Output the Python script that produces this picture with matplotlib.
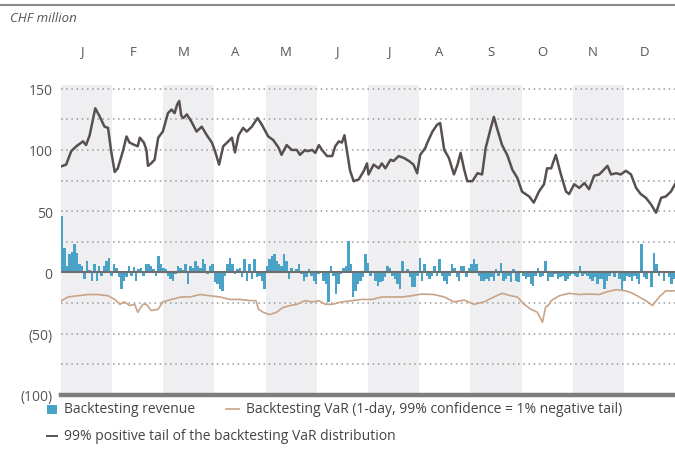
import matplotlib
matplotlib.use("Agg")
import matplotlib.pyplot as plt
from matplotlib.transforms import blended_transform_factory
from matplotlib.patches import Rectangle
from matplotlib.lines import Line2D

plt.rcParams['font.family'] = ['Open Sans', 'DejaVu Sans']

months = ["J", "F", "M", "A", "M", "J", "J", "A", "S", "O", "N", "D"]
ytick_vals = [150, 100, 50, 0, -50, -100]
ytick_labels = ["150", "100", "50", "0", "(50)", "(100)"]

# Daily backtesting revenue (CHF million), one bar per trading day
revenue = [
    46, 20, 5, 15, 17, 23, 16, 7, 5, -5, 9, 2, -7, 7, -7, 5, -3, 5, 9.5, 12,
    -3, 7, 4, -4, -13.5, -7, -4, 5, -3, 4.6, -7, 2.7, 4, -3, 7, 7, 5, 2.7, -3, 13.5,
    7, 4, 2.7, -3, -5, -7, -1, 5, 4, 2, 7,
    -9.5, 5, 4, 9.5, 5, 4, 11, 7, -1.4, 5, 7, -8, -9.5, -13.5, -15, -3, 7, 12, 7, -1.4,
    2.7, 4, -4, 11, -7, 7, -5, 11, -4, -3, -7, -13.5, 5, 11, 13.5, 15, 9.5, 7, 5, 15,
    9.5, -5, 4, 1.4, 2.7, 7, -1.4, -7, -4,
    2.7, -3, -7, -9.5, -1.4, 1.4, -7, -9.5, -24, 5, -3, -17.6, -9.5, -1.4, 4, 5, 25.7, 7, -20, -15,
    -9.5, -7, -4, 15, 8, -3, 1.4, -7, -11, -8, -7, -4, 5, 4, -3, -5, -9.5, -13.5, 9.5, 1.4,
    2.7, -4, -12, -12, -3, 12, -7, 7, -3,
    -5, -3, 5, -3, 11, -3, -7, -9.5, -3, 7, 4, -4, -7, 5, 5, -4, 4, 7, 11, 7,
    -3, -7, -7, -5, -7, -4, -7, 2.7, -3, 8, -7, -5, -3, -8, 2.7, -7, -8, 1.4, -3, -5,
    -4, -9.5, -11, -3, 4, -4, -3, 9.5, -7,
    -4, -4, -1.4, -5, -4, -3, -7, -5, -3, -1.4, -3, -4, 5, -3, -1.4, -3, -5, -7, -4, -9.5,
    -5, -5, -13.5, -7, -3, 1.4, -4, 1.4, -5, -15, -7, -3, -4, -7, -3, -5, -9.5, 23, -4, -5,
    1.4, -12, 16, 7, -3, 1.4, -7, 1.4, -4, -9.5, -5,
]

# 99% positive tail (position in months, value)
pos_t = [0.01, 0.10, 0.20, 0.30, 0.43, 0.49, 0.56, 0.63, 0.67, 0.76, 0.85, 0.92, 0.98, 1.05, 1.11,
         1.21, 1.28, 1.34, 1.44, 1.50, 1.54, 1.62, 1.67, 1.70, 1.76, 1.83, 1.90, 1.99, 2.09, 2.16,
         2.22, 2.27, 2.31, 2.35, 2.39, 2.46, 2.55, 2.65, 2.75, 2.85, 2.95, 3.01, 3.09, 3.17, 3.27,
         3.34, 3.40, 3.47, 3.56, 3.63, 3.73, 3.84, 3.92, 4.05, 4.15, 4.25, 4.31, 4.41, 4.51, 4.61,
         4.67, 4.77, 4.81, 4.91, 4.97, 5.04, 5.10, 5.20, 5.30, 5.36, 5.43, 5.49, 5.54, 5.59, 5.65,
         5.72, 5.82, 5.92, 5.98, 6.01, 6.11, 6.21, 6.27, 6.34, 6.44, 6.50, 6.60, 6.70, 6.80, 6.89,
         6.96, 7.02, 7.12, 7.16, 7.26, 7.35, 7.41, 7.49, 7.58, 7.68, 7.75, 7.81, 7.88, 7.94, 8.04,
         8.14, 8.23, 8.30, 8.40, 8.46, 8.53, 8.62, 8.72, 8.82, 8.92, 9.01, 9.15, 9.24, 9.34, 9.44,
         9.50, 9.58, 9.67, 9.77, 9.87, 9.93, 10.03, 10.13, 10.23, 10.32, 10.42, 10.52, 10.59, 10.68,
         10.75, 10.85, 10.94, 11.04, 11.14, 11.24, 11.33, 11.43, 11.53, 11.63, 11.73, 11.82, 11.92, 12.0]
pos_v = [86.7, 88, 99, 103, 107, 104, 112, 126, 134, 127, 119, 118, 99, 82, 85,
         99, 111, 106, 104, 103, 110, 106, 100, 87, 89, 92, 110, 115, 130, 133,
         130, 137, 140, 128, 126, 129, 123, 115, 119, 112, 106, 99, 88, 103, 107,
         110, 98, 112, 118, 115, 119, 126, 121, 111, 108, 102, 96, 104, 100, 100,
         96, 100, 99, 100, 97.6, 104, 100, 95, 95, 103, 107, 106, 112, 99, 83,
         74.5, 76, 83, 89, 80, 88, 85, 89, 85, 92, 91, 95, 93.5, 91, 88,
         81, 96, 101.6, 106, 115, 120.6, 122, 100, 93.5, 80, 88, 97.6, 84, 74.5, 74.5,
         81, 80, 101.6, 118, 127, 116.5, 104, 96, 84, 77, 66, 62, 57, 66, 72,
         85, 85, 96, 80, 66, 64, 72, 69, 73, 68, 79, 80, 83, 87,
         80, 81, 80, 83, 80, 69, 64, 61, 55.6, 48.8, 61, 62, 66, 72]

# Backtesting VaR (position in months, value)
var_t = [0.01, 0.14, 0.33, 0.53, 0.72, 0.92, 1.05, 1.15, 1.24, 1.34, 1.44, 1.50, 1.60, 1.67, 1.76,
         1.90, 1.99, 2.16, 2.35, 2.52, 2.72, 2.91, 3.11, 3.30, 3.50, 3.69, 3.81, 3.86, 3.95, 4.08,
         4.21, 4.34, 4.48, 4.61, 4.77, 4.91, 5.04, 5.17, 5.30, 5.49, 5.69, 5.88, 6.08, 6.27, 6.47,
         6.66, 6.86, 7.05, 7.29, 7.49, 7.68, 7.88, 8.07, 8.27, 8.46, 8.62, 8.79, 8.92, 9.05, 9.18,
         9.31, 9.41, 9.47, 9.54, 9.58, 9.74, 9.93, 10.13, 10.32, 10.52, 10.65, 10.85, 11.04, 11.17,
         11.30, 11.43, 11.56, 11.69, 11.82, 12.0]
var_v = [-23, -20, -19, -18, -18, -19, -22, -26, -24, -27, -26, -32.5, -26, -26, -31,
         -30, -24, -22, -20, -20, -18, -19, -20, -22, -22, -23, -23, -30, -32.5, -34.4,
         -32.5, -28.5, -27, -26, -23, -24, -23, -26, -26, -24, -23, -22, -22, -20, -20,
         -20, -19, -17.6, -18, -20, -24, -22.5, -26, -24, -20, -17, -19, -20, -26, -30,
         -32.5, -40.6, -28.5, -26, -23, -19, -17, -18, -17.6, -18, -16, -14, -15, -17,
         -20, -23, -27, -20, -15, -15]

W, H = 675, 452
fig = plt.figure(figsize=(W / 100, H / 100), dpi=100)
ax = fig.add_axes([61 / W, 1 - 396 / H, 614 / W, (396 - 86) / H])
ax.set_xlim(0, 12)
ax.set_ylim(-100, 153)
for s in ax.spines.values():
    s.set_visible(False)

band_c = '#EFEFF2'
for k in range(0, 12, 2):
    ax.axvspan(k, k + 1, color=band_c, lw=0, zorder=0)

for g in [150, 125, 100, 75, 50, 25, -25, -50, -75]:
    ax.axhline(g, color='#9a9a9a', lw=1.1, linestyle=(0, (1, 2.4)), zorder=1)

bar_c = '#4AA3C6'
n = len(revenue)
edges = [i * 12 / n for i in range(n + 1)]
ax.stairs(revenue, edges, baseline=0, fill=True, color=bar_c, lw=0, zorder=2)
ax.axhline(0, color='#6e6e6e', lw=1.5, zorder=3)
ax.axhline(-100, color='#7d7d7d', lw=3.2, zorder=3, clip_on=False)

ax.plot(var_t, var_v, color='#C9A386', lw=1.2, zorder=4)
ax.plot(pos_t, pos_v, color='#57504E', lw=1.8, zorder=5)

ax.set_xticks([])
ax.set_yticks(ytick_vals)
ax.set_yticklabels(ytick_labels)
ax.tick_params(axis='y', length=0, pad=6, labelsize=10, labelcolor='#555555')

tr = blended_transform_factory(ax.transData, fig.transFigure)
for k, m in enumerate(months):
    ax.text(k + 0.4, 1 - 52 / H, m, transform=tr, ha='center', va='center',
            fontsize=9.5, color='#555555')

fig.text(10 / W, 1 - 18 / H, "CHF million", fontsize=9.5, style='italic',
         color='#555555', ha='left', va='center')
fig.add_artist(Line2D([0, 1], [1 - 6 / H, 1 - 6 / H], transform=fig.transFigure,
                      color='#8a8a8a', lw=1.5))

# legend
y1 = 1 - 410 / H
y2 = 1 - 437 / H
fs = 10
fig.add_artist(Rectangle((47 / W, y1 - 4.5 / H), 10 / W, 9 / H, transform=fig.transFigure,
                         color=bar_c, lw=0))
fig.text(64 / W, y1, "Backtesting revenue", fontsize=fs, color='#444444', va='center')
fig.add_artist(Line2D([226 / W, 239 / W], [y1, y1], transform=fig.transFigure,
                      color='#C9A386', lw=1.2))
fig.text(246 / W, y1, "Backtesting VaR (1-day, 99% confidence = 1% negative tail)",
         fontsize=fs, color='#444444', va='center')
fig.add_artist(Line2D([47 / W, 57 / W], [y2, y2], transform=fig.transFigure,
                      color='#57504E', lw=1.4))
fig.text(64 / W, y2, "99% positive tail of the backtesting VaR distribution",
         fontsize=fs, color='#444444', va='center')

fig.savefig("out.png", dpi=100)
